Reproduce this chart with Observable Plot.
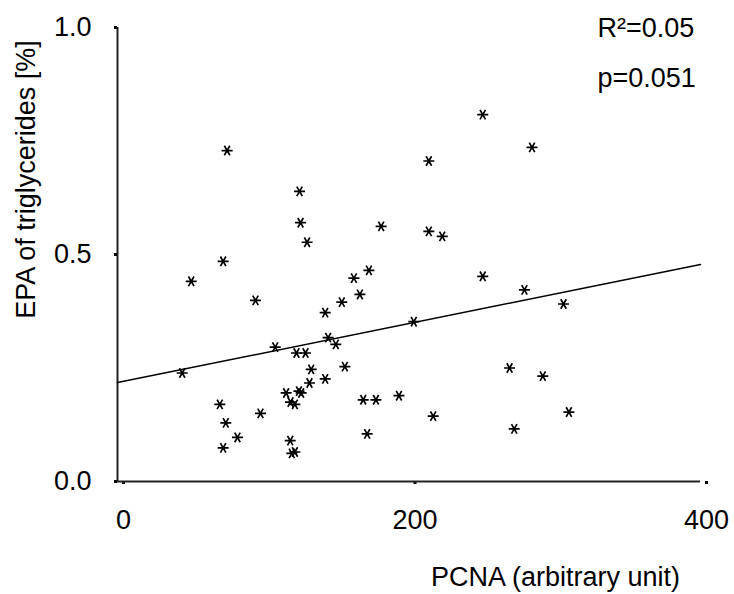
<!DOCTYPE html>
<html>
<head>
<meta charset="utf-8">
<script src="https://cdn.jsdelivr.net/npm/d3@7"></script>
<script src="https://cdn.jsdelivr.net/npm/@observablehq/plot@0.6"></script>
<style>
  html, body { margin: 0; padding: 0; background: #fff; }
  #chart svg { display: block; }
</style>
</head>
<body>
<div id="chart"></div>
<script>
// PCNA (arbitrary unit)
const pcna = [
  75.2, 124.9, 125.6, 130.1, 180.9,
  250.6, 284.4, 213.6, 213.6, 222.8,
  72.5, 50.6, 94.7, 162.2, 172.5, 166.3, 153.9, 142.5, 203.3, 144.5,
  149.8, 108.2, 122.8, 129.0, 44.4, 132.9, 156.0, 142.5, 131.7, 115.7,
  124.5, 126.0, 118.7, 121.7, 70.2, 74.3, 98.1, 82.3, 72.5, 118.5,
  119.6, 121.7, 168.6, 177.3, 193.1, 171.3,
  250.6, 279.2, 306.0, 269.0, 291.8, 216.6, 309.7, 272.2
];
// EPA of triglycerides [%]
const epa = [
  0.729, 0.639, 0.570, 0.527, 0.562,
  0.808, 0.736, 0.706, 0.551, 0.540,
  0.485, 0.441, 0.399, 0.448, 0.465, 0.412, 0.395, 0.372, 0.352, 0.317,
  0.302, 0.296, 0.283, 0.283, 0.239, 0.247, 0.253, 0.226, 0.217, 0.195,
  0.199, 0.195, 0.175, 0.170, 0.170, 0.129, 0.150, 0.097, 0.074, 0.090,
  0.062, 0.065, 0.180, 0.180, 0.189, 0.105,
  0.452, 0.422, 0.391, 0.250, 0.232, 0.144, 0.153, 0.116
];
// regression line endpoints
const fitX = [0, 400];
const fitY = [0.218, 0.478];

const xTicks = [0, 200, 400];
const yTicks = [0, 0.5, 1];
const statsText = ["R\u00B2=0.05", "p=0.051"];
const xLabel = "PCNA (arbitrary unit)";
const yLabel = "EPA of triglycerides [%]";

const points = pcna.map((x, i) => ({x, y: epa[i]}));
const fit = fitX.map((x, i) => ({x, y: fitY[i]}));

const font = "'Liberation Sans', Arial, Helvetica, sans-serif";

const chart = Plot.plot({
  width: 734,
  height: 594,
  marginLeft: 117,
  marginRight: 34,
  marginTop: 27,
  marginBottom: 113,
  style: {fontFamily: font, fontSize: "27px", color: "#000", background: "#fff"},
  x: {domain: [0, 400]},
  y: {domain: [0, 1]},
  marks: [
    Plot.axisX({ticks: xTicks, tickSize: 3, strokeWidth: 3, tickPadding: 25, fontSize: 27, dx: 6, label: null, tickFormat: d => String(d)}),
    Plot.axisY({ticks: yTicks, tickSize: 3, strokeWidth: 3, tickPadding: 23, fontSize: 27, label: null, tickFormat: d3.format(".1f")}),
    Plot.ruleX([0], {stroke: "#222", strokeWidth: 2}),
    Plot.ruleY([0], {stroke: "#222", strokeWidth: 2}),
    Plot.line(fit, {x: "x", y: "y", stroke: "#000", strokeWidth: 1.5}),
    Plot.dot(points, {x: "x", y: "y", symbol: "asterisk", r: 5.2, rotate: 90, stroke: "#000", strokeWidth: 1.7}),
    Plot.text([statsText[0]], {text: d => d, frameAnchor: "top-left", dx: 480, dy: 1, textAnchor: "start", lineAnchor: "middle", fontSize: 27}),
    Plot.text([statsText[1]], {text: d => d, frameAnchor: "top-left", dx: 480, dy: 51, textAnchor: "start", lineAnchor: "middle", fontSize: 27}),
    Plot.text([xLabel], {text: d => d, frameAnchor: "bottom-left", dx: 438, dy: 96, textAnchor: "middle", lineAnchor: "middle", fontSize: 27}),
    Plot.text([yLabel], {text: d => d, frameAnchor: "top-left", dx: -91, dy: 152, rotate: -90, textAnchor: "middle", lineAnchor: "middle", fontSize: 27})
  ]
});
document.getElementById("chart").appendChild(chart);
</script>
</body>
</html>
